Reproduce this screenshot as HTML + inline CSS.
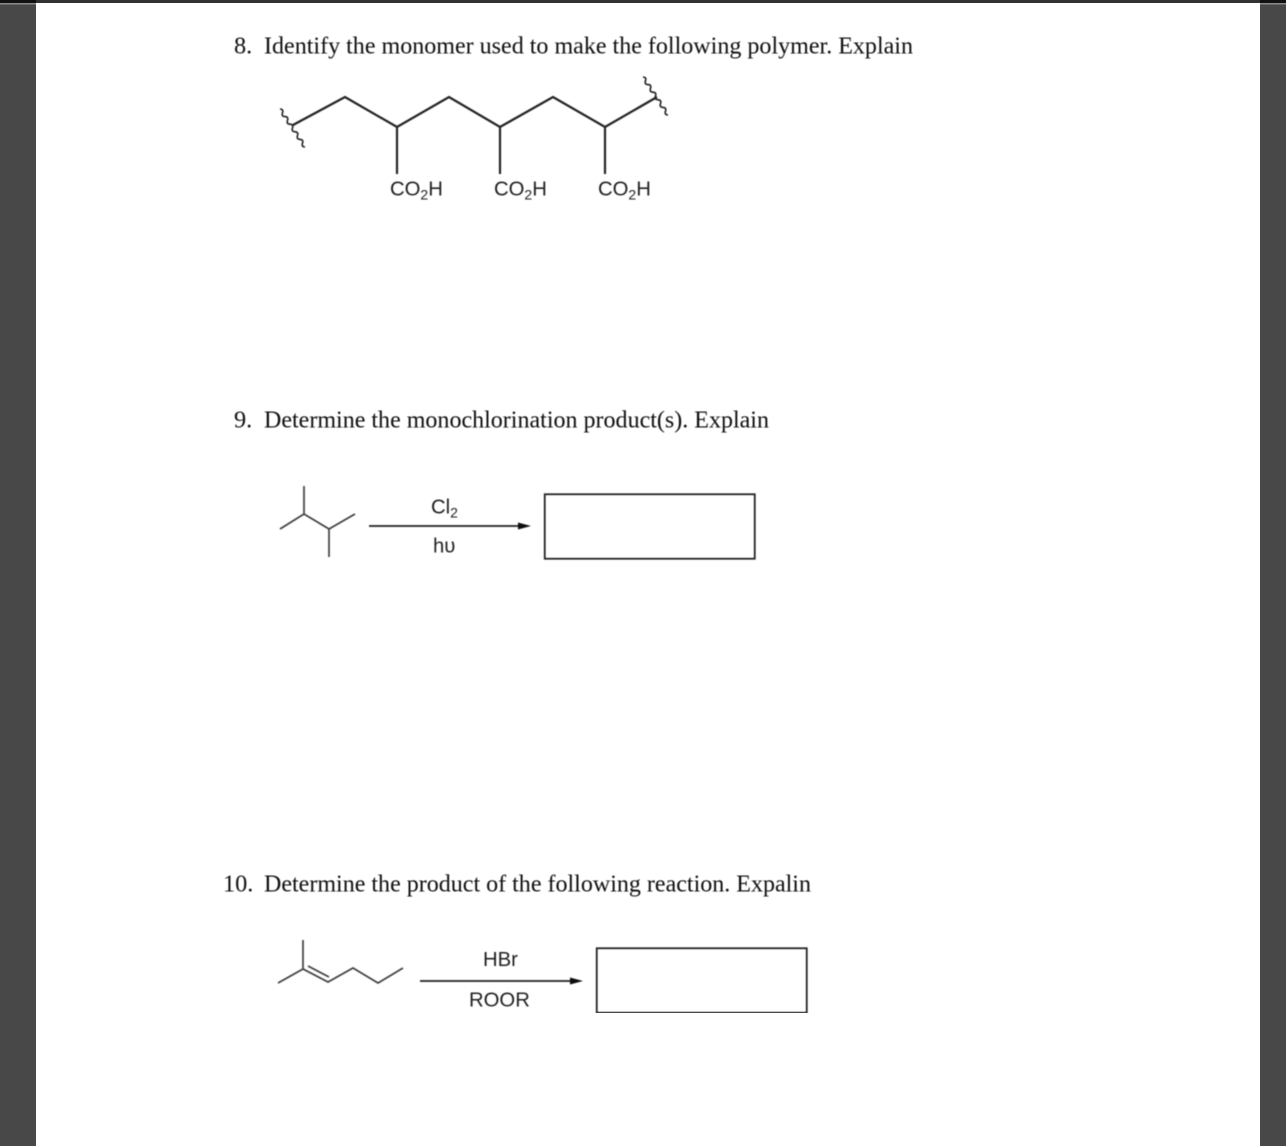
<!DOCTYPE html>
<html>
<head>
<meta charset="utf-8">
<style>
html,body{margin:0;padding:0;width:1286px;height:1146px;overflow:hidden;background:#fff}
svg{display:block}
.q{font-family:"Liberation Serif",serif;font-size:24.3px;fill:#111}
.l{font-family:"Liberation Sans",sans-serif;font-size:20.3px;fill:#222}
.s{font-size:14px}
.b{fill:none;stroke:#222;stroke-linejoin:miter}
</style>
</head>
<body>
<svg width="1286" height="1146" viewBox="0 0 1286 1146" xmlns="http://www.w3.org/2000/svg">
<defs><filter id="f" x="0" y="0" width="100%" height="100%"><feGaussianBlur stdDeviation="0.45"/></filter></defs>
<rect x="36" y="0" width="1224" height="1146" fill="#fff"/>
<rect x="0" y="3" width="36" height="1143" fill="#484848"/>
<rect x="1260" y="3" width="26" height="1143" fill="#484848"/>
<rect x="0" y="3" width="36" height="1.5" fill="#8a8a8a"/>
<rect x="1260" y="3" width="26" height="1.5" fill="#8a8a8a"/>
<rect x="0" y="0" width="36" height="3" fill="#111"/>
<rect x="1260" y="0" width="26" height="3" fill="#111"/>
<rect x="36" y="0" width="1224" height="3" fill="#333"/>

<g filter="url(#f)">
<text class="q" x="234" y="53.5">8.</text>
<text class="q" x="264" y="53.5" textLength="649" lengthAdjust="spacingAndGlyphs">Identify the monomer used to make the following polymer. Explain</text>
<text class="q" x="234" y="427.5">9.</text>
<text class="q" x="264" y="427.5" textLength="505" lengthAdjust="spacingAndGlyphs">Determine the monochlorination product(s). Explain</text>
<text class="q" x="223" y="891.5">10.</text>
<text class="q" x="264" y="891.5" textLength="547" lengthAdjust="spacingAndGlyphs">Determine the product of the following reaction. Expalin</text>

<!-- polymer -->
<polyline class="b" stroke-width="2.2" points="293,125 345,97 397,127 449,97 500,127 553,97 605,127 657,97"/>
<path class="b" stroke-width="2.2" d="M397,127V174M500,127V174M605,127V174"/>
<path class="b" stroke-width="1.6" d="M280,109q3.75,.25 2.5,3.8t2.5,3.8t2.5,3.8t2.5,3.8t2.5,3.8t2.5,3.8t2.5,3.8t2.5,3.8t2.5,3.8t2.5,3.8"/>
<path class="b" stroke-width="1.6" d="M643,77q3.75,.25 2.5,3.8t2.5,3.8t2.5,3.8t2.5,3.8t2.5,3.8t2.5,3.8t2.5,3.8t2.5,3.8t2.5,3.8t2.5,3.8"/>
<text class="l" x="390" y="195.5">CO<tspan class="s" dy="4">2</tspan><tspan dy="-4">H</tspan></text>
<text class="l" x="494" y="195.5">CO<tspan class="s" dy="4">2</tspan><tspan dy="-4">H</tspan></text>
<text class="l" x="598" y="195.5">CO<tspan class="s" dy="4">2</tspan><tspan dy="-4">H</tspan></text>

<!-- reaction 9 -->
<path class="b" stroke-width="1.7" stroke-opacity=".85" d="M304,486V514M280,529L304,514L329,529L355,514M329,529V557"/>
<path class="b" stroke-width="1.7" d="M369,526H521"/>
<path d="M518,522.5L531,526L518,529.5Z" fill="#111"/>
<text class="l" x="431" y="513.5">Cl<tspan class="s" dy="4">2</tspan></text>
<text class="l" x="433" y="552.5">hυ</text>
<rect class="b" stroke-width="1.8" x="544.75" y="494.25" width="210" height="64.5"/>

<!-- reaction 10 -->
<path class="b" stroke-width="1.7" stroke-opacity=".85" d="M303,940V969M278,983L303,969L328,982L353,968L378,983L403,968M308,966L329,977"/>
<path class="b" stroke-width="1.7" d="M420,981H573"/>
<path d="M570,977.5L583,981L570,984.5Z" fill="#111"/>
<text class="l" x="483" y="966">HBr</text>
<text class="l" x="469" y="1006.5">ROOR</text>
<rect class="b" stroke-width="1.8" x="596.75" y="948.25" width="210" height="64.5"/>
</g>
</svg>
</body>
</html>
